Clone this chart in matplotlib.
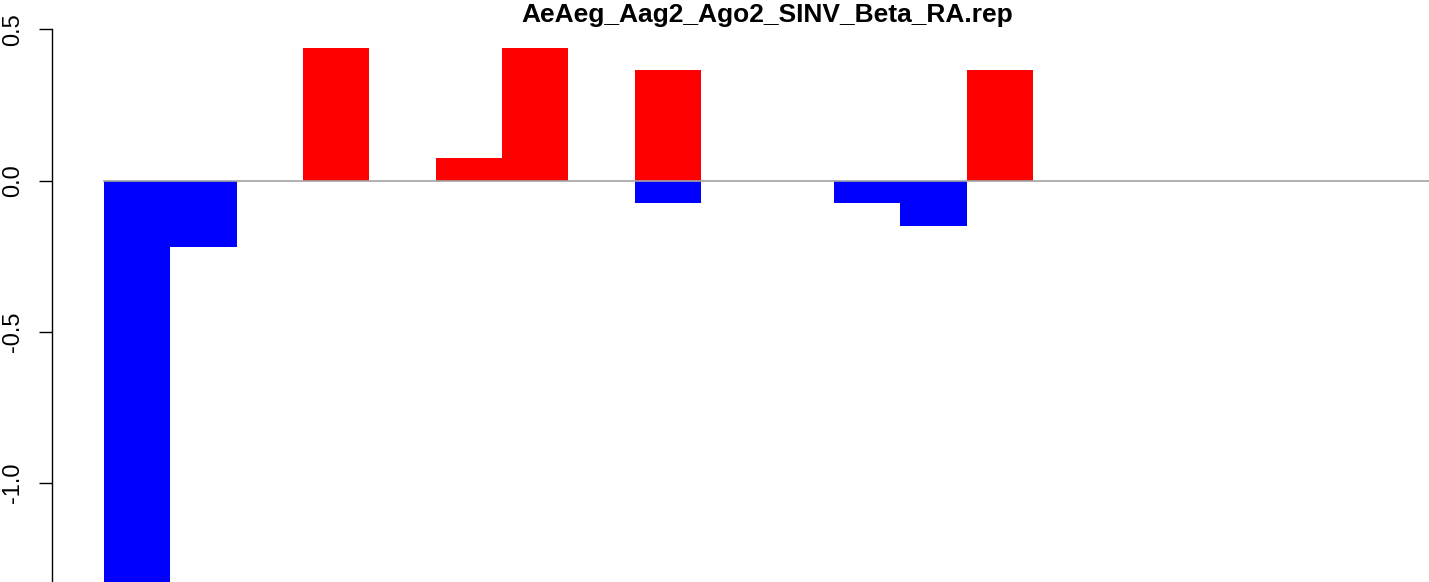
import numpy as np
from matplotlib import pyplot as plt

plt.rcParams['font.family'] = ['Liberation Sans', 'DejaVu Sans']

title = 'AeAeg_Aag2_Ago2_SINV_Beta_RA.rep'
# positive (red) and negative (blue) values per position
pos_vals = [0, 0, 0, 0.44, 0, 0.075, 0.44, 0, 0.367, 0,
            0, 0, 0, 0.367, 0, 0, 0, 0, 0, 0]
neg_vals = [-1.39, -0.22, 0, 0, 0, 0, 0, 0, -0.075, 0,
            0, -0.075, -0.149, 0, 0, 0, 0, 0, 0, 0]
yticks = [-1.5, -1.0, -0.5, 0.0, 0.5]

W, H = 1429, 582
fig = plt.figure(figsize=(W / 100, H / 100), dpi=100)
ax = fig.add_axes([52 / W, 0, 1 - 52 / W, 1])

x = np.arange(len(pos_vals))
bw = 66.35                       # bar width in pixels

ax.bar(x, pos_vals, width=1, align='edge', color='red', linewidth=0)
ax.bar(x, neg_vals, width=1, align='edge', color='blue', linewidth=0)
ax.plot([0, 100], [0, 0], color='#a3a3a3', linewidth=1.2, zorder=3)

for s in ['top', 'right', 'bottom']:
    ax.spines[s].set_visible(False)
ax.spines['left'].set_bounds(-1.5, 0.5)
ax.spines['left'].set_linewidth(1.0)
ax.set_xticks([])
ax.set_yticks(yticks)
ax.set_yticklabels(['%.1f' % v for v in yticks], rotation=90, va='center',
                   fontsize=17)
ax.tick_params(axis='y', length=9.4, width=1.0, pad=11)

# limits after ticks so the ticks don't widen the view
ax.set_xlim(-(104 - 52) / bw, (W - 104) / bw)
ax.set_ylim(0.5 - 552.5 / 302.2, 0.5 + 29.5 / 302.2)

fig.text(767 / W, 1 - 22 / H, title, ha='center', va='baseline',
         fontsize=19, fontweight='bold')

fig.savefig('out.png', dpi=100)
